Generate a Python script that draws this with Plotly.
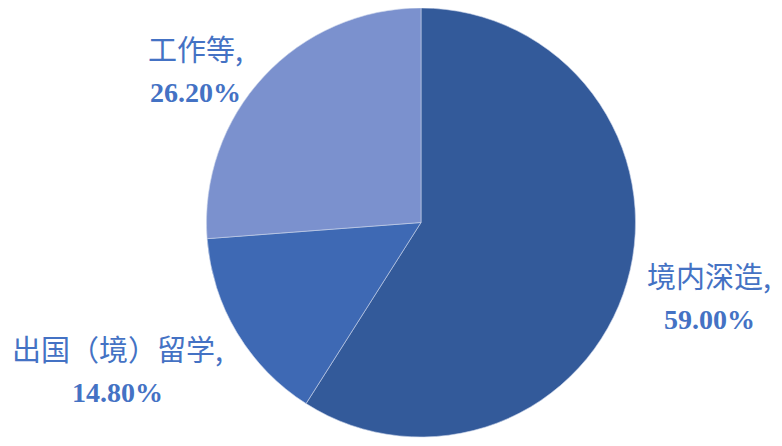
import plotly.graph_objects as go

# data
labels = ["境内深造", "出国（境）留学", "工作等"]
values = [59.00, 14.80, 26.20]
colors = ["#335A9A", "#3E69B4", "#7B91CE"]

# the page body adds an 8px margin, so the figure is laid out 8px smaller
OFF = 8
W, H = 782 - OFF, 446 - OFF

# label anchor points (pixels in the reference picture), one per slice
label_pos = [(709, 275), (117, 348), (195, 48)]

fig = go.Figure()
fig.add_trace(go.Pie(
    labels=labels,
    values=values,
    sort=False,
    direction="clockwise",
    rotation=0,
    marker=dict(colors=colors, line=dict(color="#C9D3EA", width=0.6)),
    textinfo="none",
    hoverinfo="label+percent",
    showlegend=False,
    domain=dict(x=[(421 - OFF - 250) / W, (421 - OFF + 250) / W],
                y=[1 - (437 - OFF) / H, 1 - (8 - OFF) / H]),
))

# labels: name on first line, percent on second
for name, v, (px, py) in zip(labels, values, label_pos):
    fig.add_annotation(
        x=(px - OFF) / W, y=1 - (py - OFF) / H, xref="paper", yref="paper",
        text=name + ",", showarrow=False, xanchor="center", yanchor="middle",
        font=dict(family="Noto Sans CJK SC", size=29, color="#4472C4"),
    )
    fig.add_annotation(
        x=(px - OFF) / W, y=1 - (py + 44 - OFF) / H, xref="paper", yref="paper",
        text="<b>%.2f%%</b>" % v, showarrow=False, xanchor="center", yanchor="middle",
        font=dict(family="Liberation Serif", size=28, color="#4472C4"),
    )

fig.update_layout(
    width=W, height=H,
    margin=dict(l=0, r=0, t=0, b=0),
    paper_bgcolor="white",
    plot_bgcolor="white",
)

fig.write_html("out.html")
